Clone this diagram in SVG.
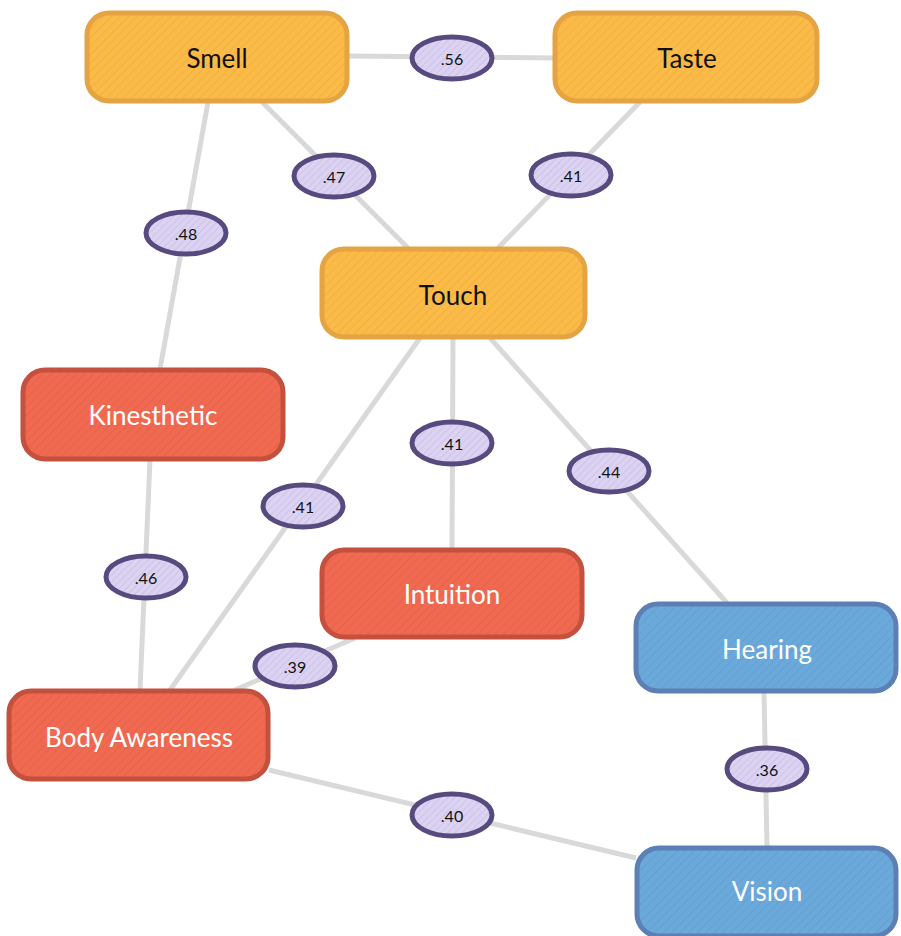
<svg xmlns="http://www.w3.org/2000/svg" width="901" height="936" viewBox="0 0 901 936">
<defs>
<pattern id="hO" patternUnits="userSpaceOnUse" width="6" height="6" patternTransform="rotate(45)"><rect width="6" height="6" fill="#fbbb48"/><line x1="0" y1="0" x2="0" y2="6" stroke="#f3b040" stroke-width="2"/></pattern>
<pattern id="hR" patternUnits="userSpaceOnUse" width="6" height="6" patternTransform="rotate(45)"><rect width="6" height="6" fill="#f06a52"/><line x1="0" y1="0" x2="0" y2="6" stroke="#e8624b" stroke-width="2"/></pattern>
<pattern id="hB" patternUnits="userSpaceOnUse" width="6" height="6" patternTransform="rotate(45)"><rect width="6" height="6" fill="#6ca9db"/><line x1="0" y1="0" x2="0" y2="6" stroke="#62a0d3" stroke-width="2"/></pattern>
<pattern id="hP" patternUnits="userSpaceOnUse" width="5" height="5" patternTransform="rotate(45)"><rect width="5" height="5" fill="#dcd3f2"/><line x1="0" y1="0" x2="0" y2="5" stroke="#c9bde6" stroke-width="1.5"/></pattern>
</defs>
<style>
.o rect{fill:url(#hO);stroke:#e4a443;stroke-width:5}
.r rect{fill:url(#hR);stroke:#c4513e;stroke-width:5}
.b rect{fill:url(#hB);stroke:#5c80b4;stroke-width:5}
.o text{fill:#111}
.r text,.b text{fill:#fff}
text{font-family:Lato,"Open Sans","Liberation Sans",sans-serif;font-size:26px;text-anchor:middle;dominant-baseline:central}
.lab ellipse{fill:url(#hP);stroke:#574a7e;stroke-width:5}
.lab text{font-size:16px;fill:#111}
#edges line{stroke:#d9d9d9;stroke-width:5}
</style>
<g id="edges">
<line x1="348" y1="56" x2="554" y2="58"/>
<line x1="262" y1="102" x2="408" y2="248"/>
<line x1="640" y1="102" x2="498" y2="248"/>
<line x1="208" y1="102" x2="160" y2="369"/>
<line x1="453" y1="338" x2="452" y2="549"/>
<line x1="490" y1="338" x2="727" y2="603"/>
<line x1="420" y1="338" x2="170" y2="690"/>
<line x1="150" y1="460" x2="140" y2="690"/>
<line x1="355" y1="638" x2="235" y2="690"/>
<line x1="764" y1="692" x2="767" y2="847"/>
<line x1="269" y1="770" x2="636" y2="858"/>
</g>
<g id="labels">
<g class="lab"><ellipse cx="452" cy="58" rx="40" ry="21"/><text x="452" y="58">.56</text></g>
<g class="lab"><ellipse cx="334" cy="176" rx="40" ry="21"/><text x="334" y="176">.47</text></g>
<g class="lab"><ellipse cx="571" cy="175" rx="40" ry="21"/><text x="571" y="175">.41</text></g>
<g class="lab"><ellipse cx="186" cy="233" rx="40" ry="21"/><text x="186" y="233">.48</text></g>
<g class="lab"><ellipse cx="452" cy="443" rx="40" ry="21"/><text x="452" y="443">.41</text></g>
<g class="lab"><ellipse cx="609" cy="471" rx="40" ry="21"/><text x="609" y="471">.44</text></g>
<g class="lab"><ellipse cx="303" cy="506" rx="40" ry="21"/><text x="303" y="506">.41</text></g>
<g class="lab"><ellipse cx="146" cy="577" rx="40" ry="21"/><text x="146" y="577">.46</text></g>
<g class="lab"><ellipse cx="295" cy="666" rx="40" ry="21"/><text x="295" y="666">.39</text></g>
<g class="lab"><ellipse cx="767" cy="769" rx="40" ry="21"/><text x="767" y="769">.36</text></g>
<g class="lab"><ellipse cx="452" cy="815" rx="40" ry="21"/><text x="452" y="815">.40</text></g>
</g>
<g id="smell" class="o"><rect x="87" y="13" width="260" height="88" rx="22"/><text x="217" y="58">Smell</text></g>
<g id="taste" class="o"><rect x="555" y="13" width="262" height="88" rx="22"/><text x="687" y="58">Taste</text></g>
<g id="touch" class="o"><rect x="322" y="249" width="263" height="88" rx="22"/><text x="453" y="295">Touch</text></g>
<g id="kinesthetic" class="r"><rect x="23" y="370" width="260" height="89" rx="22"/><text x="153" y="415">Kinesthetic</text></g>
<g id="intuition" class="r"><rect x="322" y="550" width="260" height="87" rx="22"/><text x="452" y="594">Intuition</text></g>
<g id="hearing" class="b"><rect x="636" y="604" width="260" height="87" rx="22"/><text x="767" y="649">Hearing</text></g>
<g id="body-awareness" class="r"><rect x="9" y="691" width="259" height="88" rx="22"/><text x="139" y="737">Body Awareness</text></g>
<g id="vision" class="b"><rect x="637" y="848" width="259" height="88" rx="22"/><text x="767" y="891">Vision</text></g>
</svg>
